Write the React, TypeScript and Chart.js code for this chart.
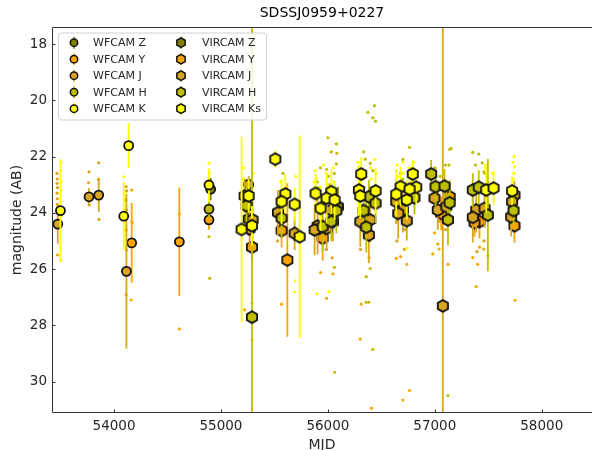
import React, { useEffect, useRef } from 'react';
import { Chart, registerables } from 'chart.js';

Chart.register(...registerables);

// band colours (matplotlib names)
const colZ = '#808000';
const colY = '#FFA500';
const colJ = '#DAA520';
const colH = '#BFBF00';
const colK = '#FFFF00';

const xTicks = [54000, 55000, 56000, 57000, 58000];
const yTicks = [18, 20, 22, 24, 26, 28, 30];

// WFCAM stacked points (circles)
const wfcamZMjd = [54904];
const wfcamZMag = [23.16];
const wfcamZErr = [0.4];

const wfcamYMjd = [54165, 54611, 54888];
const wfcamYMag = [25.07, 25.03, 24.25];
const wfcamYErr = [1.42, 1.93, 0.35];

const wfcamJMjd = [53474, 53766, 53857, 54116, 55259];
const wfcamJMag = [24.4, 23.43, 23.37, 26.08, 22.99];
const wfcamJErr = [0.7, 0.3, 0.6, 2.75, 0.3];

const wfcamHMjd = [54888];
const wfcamHMag = [23.87];
const wfcamHErr = [0.3];

const wfcamKMjd = [53499, 54091, 54137, 54888];
const wfcamKMag = [23.92, 24.12, 21.61, 23.01];
const wfcamKErr = [1.83, 1.2, 0.8, 0.6];

// VIRCAM stacked points (hexagons)
const vircamZMjd = [55259, 56094];
const vircamZMag = [24.22, 23.78];
const vircamZErr = [0.6, 0.7];

const vircamYMjd = [55290, 55567, 55621, 55951, 57060, 57139, 57418, 57371, 57745];
const vircamYMag = [25.22, 24.63, 25.68, 24.9, 24.02, 23.43, 24.31, 24.35, 24.46];
const vircamYErr = [0.5, 0.6, 2.73, 0.8, 0.6, 0.5, 0.6, 0.5, 0.6];

const vircamJMjd = [55221, 55296, 55268, 55533, 55689, 56032, 55904, 55876, 55988, 56047, 56303, 56396, 56383, 56639, 56701, 56658, 56738, 56997, 57028, 57107, 57075, 57387, 57465, 57355, 57745, 57723, 57714];
const vircamJMag = [23.4, 24.25, 24.57, 23.99, 24.73, 23.9, 24.47, 24.61, 24.55, 24.31, 24.31, 24.25, 24.79, 23.6, 23.9, 24.02, 24.28, 23.48, 23.9, 23.78, 27.31, 23.9, 23.84, 24.16, 23.37, 23.6, 24.14];
const vircamJErr = [0.6, 0.7, 0.7, 0.8, 0.6, 0.7, 1.0, 0.9, 0.8, 0.7, 0.9, 0.8, 1.0, 0.8, 0.8, 0.9, 0.7, 0.6, 0.7, 0.6, 15, 0.8, 0.7, 0.9, 0.5, 0.6, 0.7];

const vircamHMjd = [55240, 55290, 55567, 55951, 56079, 56032, 56383, 56446, 56334, 56359, 56810, 56966, 57007, 57091, 57139, 57123, 57355, 57411, 57496, 57736];
const vircamHMag = [23.75, 27.71, 24.19, 24.49, 23.93, 24.31, 23.43, 23.66, 23.92, 24.51, 23.46, 22.62, 23.07, 23.05, 23.64, 24.25, 23.19, 23.09, 24.08, 23.92];
const vircamHErr = [0.8, 15, 0.7, 0.9, 0.8, 0.7, 0.6, 0.7, 0.8, 0.9, 0.6, 0.5, 0.7, 0.6, 0.8, 0.9, 0.6, 0.6, 2.0, 0.5];

const vircamKMjd = [55259, 55193, 55290, 55508, 55602, 55567, 55689, 55736, 55885, 56032, 55988, 56063, 55932, 56312, 56290, 56446, 56303, 56794, 56680, 56826, 56639, 56738, 56764, 57481, 57550, 57723];
const vircamKMag = [23.4, 24.59, 24.46, 22.09, 23.33, 23.6, 23.7, 24.85, 23.31, 23.25, 23.48, 23.54, 23.84, 22.62, 23.19, 23.22, 23.4, 22.62, 23.07, 23.09, 23.34, 23.54, 23.16, 23.19, 23.12, 23.22];
const vircamKErr = [0.6, 3.3, 0.7, 0.3, 0.7, 0.8, 0.6, 3.6, 0.7, 0.8, 0.9, 0.7, 0.8, 0.6, 0.9, 0.8, 0.8, 0.5, 0.7, 0.6, 0.8, 0.7, 0.6, 0.8, 0.6, 0.5];

// single-epoch measurements (small dots)
const dotsYMjd = [54165, 54170, 54160, 54611, 54611, 54888, 55221, 55567, 55932, 55988, 56047, 56303, 56312, 56407, 56639, 56680, 56701, 56738, 56764, 56981, 56997, 57028, 57040, 57123, 57355, 57387, 57401, 57418, 57457, 57750];
const dotsYMag = [23.19, 24.34, 27.1, 24.04, 28.13, 23.86, 27.45, 27.25, 26.13, 27.04, 26.17, 28.49, 27.25, 30.95, 25.62, 25.56, 30.66, 25.83, 30.32, 25.46, 24.71, 25.11, 25.29, 25.83, 25.59, 26.62, 25.83, 25.22, 25.29, 27.11];

const dotsJMjd = [53466, 53470, 53468, 53471, 53467, 53470, 53469, 53472, 53766, 53762, 53768, 53857, 53855, 53860, 54112, 54118, 54110, 54120, 54114, 54116, 54113, 55221, 55226, 55533, 55538, 55530, 55900, 55905, 55990, 55985, 56040, 56300, 56305, 56390, 56385, 56650, 56645, 56720, 56715, 57040, 57100, 57400, 57395, 57460, 57714];
const dotsJMag = [22.6, 22.8, 22.95, 23.1, 23.3, 23.5, 23.7, 25.5, 22.54, 22.93, 23.72, 22.22, 22.81, 24.23, 23.07, 23.22, 23.54, 23.9, 24.61, 25.32, 26.92, 23.0, 23.9, 23.6, 24.4, 25.0, 23.2, 24.9, 23.8, 25.3, 25.6, 23.7, 25.3, 24.1, 25.6, 24.3, 25.0, 24.6, 25.3, 24.3, 24.6, 24.5, 25.38, 25.0, 24.5];

const dotsHMjd = [54888, 54895, 55290, 55290, 56063, 56000, 56079, 56032, 56084, 56079, 55988, 56334, 56350, 56396, 56374, 56436, 56420, 56446, 56358, 56383, 56359, 56396, 56060, 56420, 56764, 56701, 57139, 57153, 57355, 57411, 57443, 57458, 57132, 57123, 57496, 55900, 55910, 56005, 56015, 56330, 56340, 56700, 57050, 57470, 55250, 55580, 55930, 56060, 56320, 56420, 56680, 56790, 57000, 57100, 57380, 57490];
const dotsHMag = [24.85, 26.33, 27.21, 28.52, 29.67, 21.33, 21.55, 21.83, 21.88, 22.26, 22.45, 21.83, 22.09, 22.24, 20.43, 20.19, 20.62, 20.74, 27.18, 27.18, 26.27, 25.98, 25.94, 28.86, 21.67, 22.1, 21.74, 21.71, 21.85, 21.91, 22.22, 22.54, 22.3, 30.5, 25.53, 22.9, 23.1, 22.7, 23.0, 22.8, 23.1, 22.8, 22.7, 22.6, 22.9, 22.6, 22.4, 22.6, 22.5, 22.5, 22.6, 22.9, 22.4, 22.3, 22.3, 22.9];

const dotsKMjd = [53505, 53503, 53507, 53505, 53502, 53506, 53504, 54091, 54095, 54888, 54892, 55692, 55692, 55897, 56009, 56738, 55880, 55890, 55985, 55995, 56285, 56295, 56450, 56645, 56655, 56820, 57475, 57485, 57740, 57745, 57738, 55210, 55215, 55300, 55560, 55700, 55870, 55875, 55960, 56050, 56055, 56280, 56300, 56400, 56405, 56440, 56640, 56700, 56705, 56760, 56800, 57470, 57540, 57500, 57730, 57735];
const dotsKMag = [22.2, 22.5, 22.9, 23.2, 23.6, 24.1, 25.7, 22.72, 23.31, 22.23, 22.6, 26.42, 26.82, 26.88, 26.8, 25.26, 22.5, 22.8, 22.6, 23.0, 22.4, 22.9, 22.6, 22.3, 22.7, 22.5, 22.4, 22.7, 22.0, 22.36, 22.6, 22.4, 22.8, 22.6, 22.9, 22.7, 22.9, 23.1, 22.3, 22.4, 22.9, 22.2, 22.6, 22.4, 22.8, 22.1, 22.5, 22.2, 22.6, 22.4, 22.2, 22.3, 22.6, 22.9, 22.2, 22.8];

const FONT = 'DejaVu Sans';

function hexPath(ctx: CanvasRenderingContext2D, x: number, y: number, r: number) {
  ctx.beginPath();
  for (let i = 0; i < 6; i++) {
    const a = Math.PI / 2 + (i * Math.PI) / 3;
    const px = x + r * Math.cos(a);
    const py = y - r * Math.sin(a);
    if (i === 0) ctx.moveTo(px, py);
    else ctx.lineTo(px, py);
  }
  ctx.closePath();
}

function hexImage(color: string) {
  const size = 18;
  const c = document.createElement('canvas');
  c.width = size;
  c.height = size;
  const ctx = c.getContext('2d')!;
  hexPath(ctx, size / 2, size / 2, 5.9);
  ctx.fillStyle = color;
  ctx.fill();
  ctx.lineWidth = 1.8;
  ctx.strokeStyle = '#111';
  ctx.stroke();
  return c;
}

const pts = (mjd: number[], mag: number[]) => mjd.map((x, i) => ({ x, y: mag[i] }));

function wfcam(label: string, mjd: number[], mag: number[], err: number[], color: string, order: number) {
  return {
    label, data: pts(mjd, mag), errs: err, color, order, marker: 'circle', legendCol: 0,
    pointStyle: 'circle', pointRadius: 4.5, pointBackgroundColor: color,
    pointBorderColor: '#111', pointBorderWidth: 1.8,
  };
}

function vircam(label: string, mjd: number[], mag: number[], err: number[], color: string, order: number) {
  return {
    label, data: pts(mjd, mag), errs: err, color, order, marker: 'hex', legendCol: 1,
    pointStyle: hexImage(color), pointRadius: 6,
  };
}

function dots(label: string, mjd: number[], mag: number[], color: string, order: number) {
  return {
    label, data: pts(mjd, mag), color, order,
    pointStyle: 'circle', pointRadius: 1.6, pointBorderWidth: 0,
    pointBackgroundColor: color,
  };
}

// error bars drawn just below each dataset's markers
const errorBars = {
  id: 'errorBars',
  beforeDatasetDraw(chart: any, args: any) {
    const ds = chart.data.datasets[args.index];
    if (!ds.errs) return;
    const { ctx, chartArea: a } = chart;
    const xs = chart.scales.x;
    const ys = chart.scales.y;
    ctx.save();
    ctx.beginPath();
    ctx.rect(a.left, a.top, a.right - a.left, a.bottom - a.top);
    ctx.clip();
    ctx.strokeStyle = ds.color;
    ctx.lineWidth = 1.8;
    ds.data.forEach((p: any, i: number) => {
      const e = ds.errs[i];
      const px = xs.getPixelForValue(p.x);
      ctx.beginPath();
      ctx.moveTo(px, ys.getPixelForValue(p.y - e));
      ctx.lineTo(px, ys.getPixelForValue(p.y + e));
      ctx.stroke();
    });
    ctx.restore();
  },
};

// spines, inward ticks and the two-column legend
const frame = {
  id: 'frame',
  afterDraw(chart: any) {
    const { ctx, chartArea: a } = chart;
    const xs = chart.scales.x;
    const ys = chart.scales.y;
    ctx.save();
    ctx.strokeStyle = '#333';
    ctx.lineWidth = 1;
    ctx.beginPath();
    ctx.moveTo(a.right + 2, a.top + 0.5);
    ctx.lineTo(a.left + 0.5, a.top + 0.5);
    ctx.lineTo(a.left + 0.5, a.bottom - 0.5);
    ctx.lineTo(a.right + 2, a.bottom - 0.5);
    ctx.stroke();
    ctx.beginPath();
    yTicks.forEach((v) => {
      const py = Math.round(ys.getPixelForValue(v)) + 0.5;
      ctx.moveTo(a.left, py);
      ctx.lineTo(a.left + 3.5, py);
    });
    xTicks.forEach((v) => {
      const px = Math.round(xs.getPixelForValue(v)) + 0.5;
      ctx.moveTo(px, a.bottom);
      ctx.lineTo(px, a.bottom - 3.5);
    });
    ctx.stroke();

    // legend
    const bx = 58.5, by = 33, bw = 208, bh = 87;
    ctx.beginPath();
    ctx.roundRect(bx, by, bw, bh, 3);
    ctx.fillStyle = 'rgba(255,255,255,0.85)';
    ctx.fill();
    ctx.strokeStyle = '#d0d0d0';
    ctx.lineWidth = 1;
    ctx.stroke();
    const rows = [0, 0];
    ctx.font = `11px "${FONT}"`;
    ctx.textBaseline = 'middle';
    chart.data.datasets.forEach((ds: any) => {
      if (ds.legendCol === undefined) return;
      const col = ds.legendCol;
      const cy = 42.7 + rows[col] * 16.5;
      rows[col]++;
      const mx = col === 0 ? 74 : 181;
      const tx = col === 0 ? 93 : 202;
      ctx.strokeStyle = ds.color;
      ctx.lineWidth = 1.5;
      ctx.beginPath();
      ctx.moveTo(mx, cy - 6);
      ctx.lineTo(mx, cy + 6);
      ctx.stroke();
      if (ds.marker === 'hex') hexPath(ctx, mx, cy, 4.8);
      else {
        ctx.beginPath();
        ctx.arc(mx, cy, 3.7, 0, Math.PI * 2);
      }
      ctx.fillStyle = ds.color;
      ctx.fill();
      ctx.strokeStyle = '#111';
      ctx.lineWidth = 1.5;
      ctx.stroke();
      ctx.fillStyle = '#262626';
      ctx.fillText(ds.label, tx, cy + 0.5);
    });
    ctx.restore();
  },
};

const App = () => {
  const chartRef = useRef<HTMLCanvasElement>(null);
  const chartInstance = useRef<Chart | null>(null);

  useEffect(() => {
    document.body.style.margin = '0';
    if (!chartRef.current) return;
    if (chartInstance.current) chartInstance.current.destroy();

    const datasets: any[] = [
      wfcam('WFCAM Z', wfcamZMjd, wfcamZMag, wfcamZErr, colZ, 15),
      wfcam('WFCAM Y', wfcamYMjd, wfcamYMag, wfcamYErr, colY, 14),
      wfcam('WFCAM J', wfcamJMjd, wfcamJMag, wfcamJErr, colJ, 13),
      wfcam('WFCAM H', wfcamHMjd, wfcamHMag, wfcamHErr, colH, 12),
      wfcam('WFCAM K', wfcamKMjd, wfcamKMag, wfcamKErr, colK, 11),
      vircam('VIRCAM Z', vircamZMjd, vircamZMag, vircamZErr, colZ, 5),
      vircam('VIRCAM Y', vircamYMjd, vircamYMag, vircamYErr, colY, 4),
      vircam('VIRCAM J', vircamJMjd, vircamJMag, vircamJErr, colJ, 3),
      vircam('VIRCAM H', vircamHMjd, vircamHMag, vircamHErr, colH, 2),
      vircam('VIRCAM Ks', vircamKMjd, vircamKMag, vircamKErr, colK, 1),
      dots('Y epochs', dotsYMjd, dotsYMag, colY, 24),
      dots('J epochs', dotsJMjd, dotsJMag, colJ, 23),
      dots('H epochs', dotsHMjd, dotsHMag, colH, 22),
      dots('K epochs', dotsKMjd, dotsKMag, colK, 21),
    ];

    chartInstance.current = new Chart(chartRef.current, {
      type: 'scatter',
      data: { datasets },
      options: {
        animation: false,
        responsive: false,
        layout: { padding: 0, autoPadding: false },
        plugins: {
          legend: { display: false },
          tooltip: { enabled: false },
          title: {
            display: true,
            text: 'SDSSJ0959+0227',
            fullSize: false,
            color: '#000',
            font: { family: FONT, size: 14, weight: 'normal' },
            padding: { top: 5, bottom: 5.2 },
          },
        },
        scales: {
          x: {
            type: 'linear',
            min: 53420,
            max: 58470,
            grid: { display: false, drawTicks: false },
            border: { display: false },
            afterBuildTicks: (s: any) => { s.ticks = xTicks.map((v) => ({ value: v })); },
            afterFit: (s: any) => {
              s.height = 37;
              s.paddingLeft = 0;
              s.paddingRight = 0;
            },
            ticks: {
              color: '#262626',
              padding: 5,
              maxRotation: 0,
              font: { family: FONT, size: 13.5 },
              callback: (v: any) => String(v),
            },
            title: {
              display: true,
              text: 'MJD',
              color: '#262626',
              font: { family: FONT, size: 14 },
              padding: { top: 0, bottom: -4 },
            },
          },
          y: {
            type: 'linear',
            reverse: true,
            min: 17.39,
            max: 31.12,
            grid: { display: false, drawTicks: false },
            border: { display: false },
            afterBuildTicks: (s: any) => { s.ticks = yTicks.map((v) => ({ value: v })); },
            afterFit: (s: any) => {
              s.width = 52;
              s.paddingTop = 0;
              s.paddingBottom = 0;
            },
            ticks: {
              color: '#262626',
              padding: 5,
              font: { family: FONT, size: 13.5 },
              callback: (v: any) => String(v),
            },
            title: {
              display: true,
              text: 'magnitude (AB)',
              color: '#262626',
              font: { family: FONT, size: 14 },
              padding: { top: 8.5, bottom: 0 },
            },
          },
        },
      },
      plugins: [errorBars, frame],
    } as any);

    return () => {
      if (chartInstance.current) {
        chartInstance.current.destroy();
        chartInstance.current = null;
      }
    };
  }, []);

  return (
    <div style={{ width: 592, height: 450 }}>
      <canvas ref={chartRef} width={592} height={450}></canvas>
    </div>
  );
};

export default App;
